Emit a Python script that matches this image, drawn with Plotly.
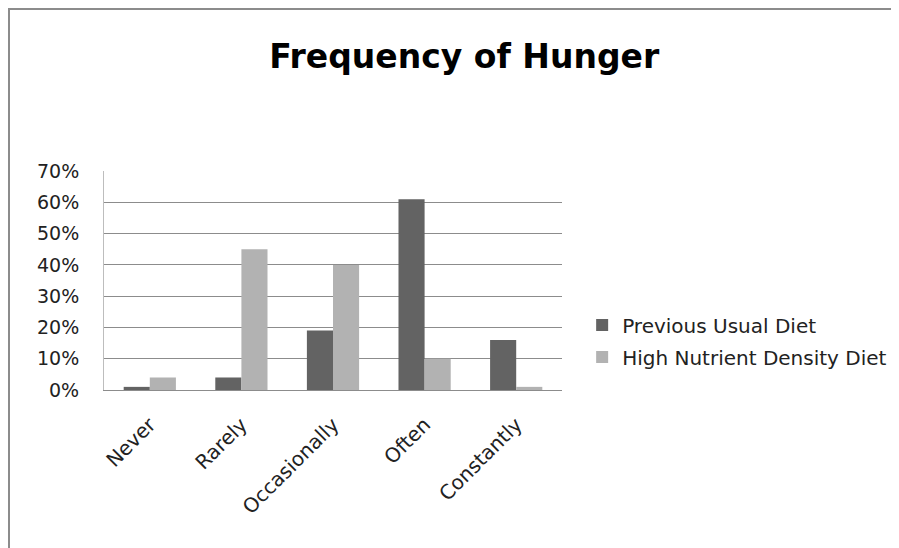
import plotly.graph_objects as go

categories = ["Never", "Rarely", "Occasionally", "Often", "Constantly"]
previous_diet = [0.01, 0.04, 0.19, 0.61, 0.16]
high_nutrient_diet = [0.04, 0.45, 0.40, 0.10, 0.01]
y_ticks = [0, 0.1, 0.2, 0.3, 0.4, 0.5, 0.6, 0.7]
y_labels = ["0%", "10%", "20%", "30%", "40%", "50%", "60%", "70%"]

font_name = "DejaVu Sans"

fig = go.Figure(data=[
    go.Bar(name="Previous Usual Diet", x=categories, y=previous_diet,
           marker_color="#636363", marker_line_width=0, legendgroup="a"),
    go.Bar(name="High Nutrient Density Diet", x=categories, y=high_nutrient_diet,
           marker_color="#b2b2b2", marker_line_width=0, legendgroup="b"),
])

# the page body has an 8px margin, so the figure is a bit smaller than the window
fig.update_layout(
    width=891,
    height=540,
    margin=dict(l=96, r=337, t=163, b=158, autoexpand=False),
    paper_bgcolor="white",
    plot_bgcolor="white",
    barmode="group",
    bargap=0.43,
    bargroupgap=0,
    font=dict(family=font_name, size=19, color="#222222"),
    title=dict(text="<b>Frequency of Hunger</b>", x=0.512, xanchor="center",
               y=1 - 48 / 540, yanchor="middle", yref="container",
               font=dict(family=font_name, size=33, color="black")),
    legend=dict(x=1.044, y=0.224, xanchor="left", yanchor="middle",
                font=dict(size=20), itemwidth=30, tracegroupgap=3),
    showlegend=True,
)

fig.update_yaxes(
    range=[0, 0.7005],
    tickvals=y_ticks,
    ticktext=y_labels,
    showgrid=True,
    gridcolor="#8c8c8c",
    gridwidth=1,
    zeroline=False,
    showline=True,
    linecolor="#bdbdbd",
    linewidth=1,
    ticks="",
    ticklabelstandoff=20,
    automargin=False,
)
fig.update_xaxes(
    tickangle=-45,
    tickfont=dict(size=20),
    showline=True,
    linecolor="#8c8c8c",
    linewidth=1,
    ticks="",
    showgrid=False,
    ticklabelstandoff=14,
    automargin=False,
)

# grey frame of the chart, running off the right and bottom of the page
fig.add_shape(type="rect", xref="paper", yref="paper",
              x0=-95 / 458, x1=900 / 458, y0=-300 / 219, y1=(219 + 162) / 219,
              line=dict(color="#8c8c8c", width=2), fillcolor="rgba(0,0,0,0)",
              layer="above")

fig.write_html("out.html")
